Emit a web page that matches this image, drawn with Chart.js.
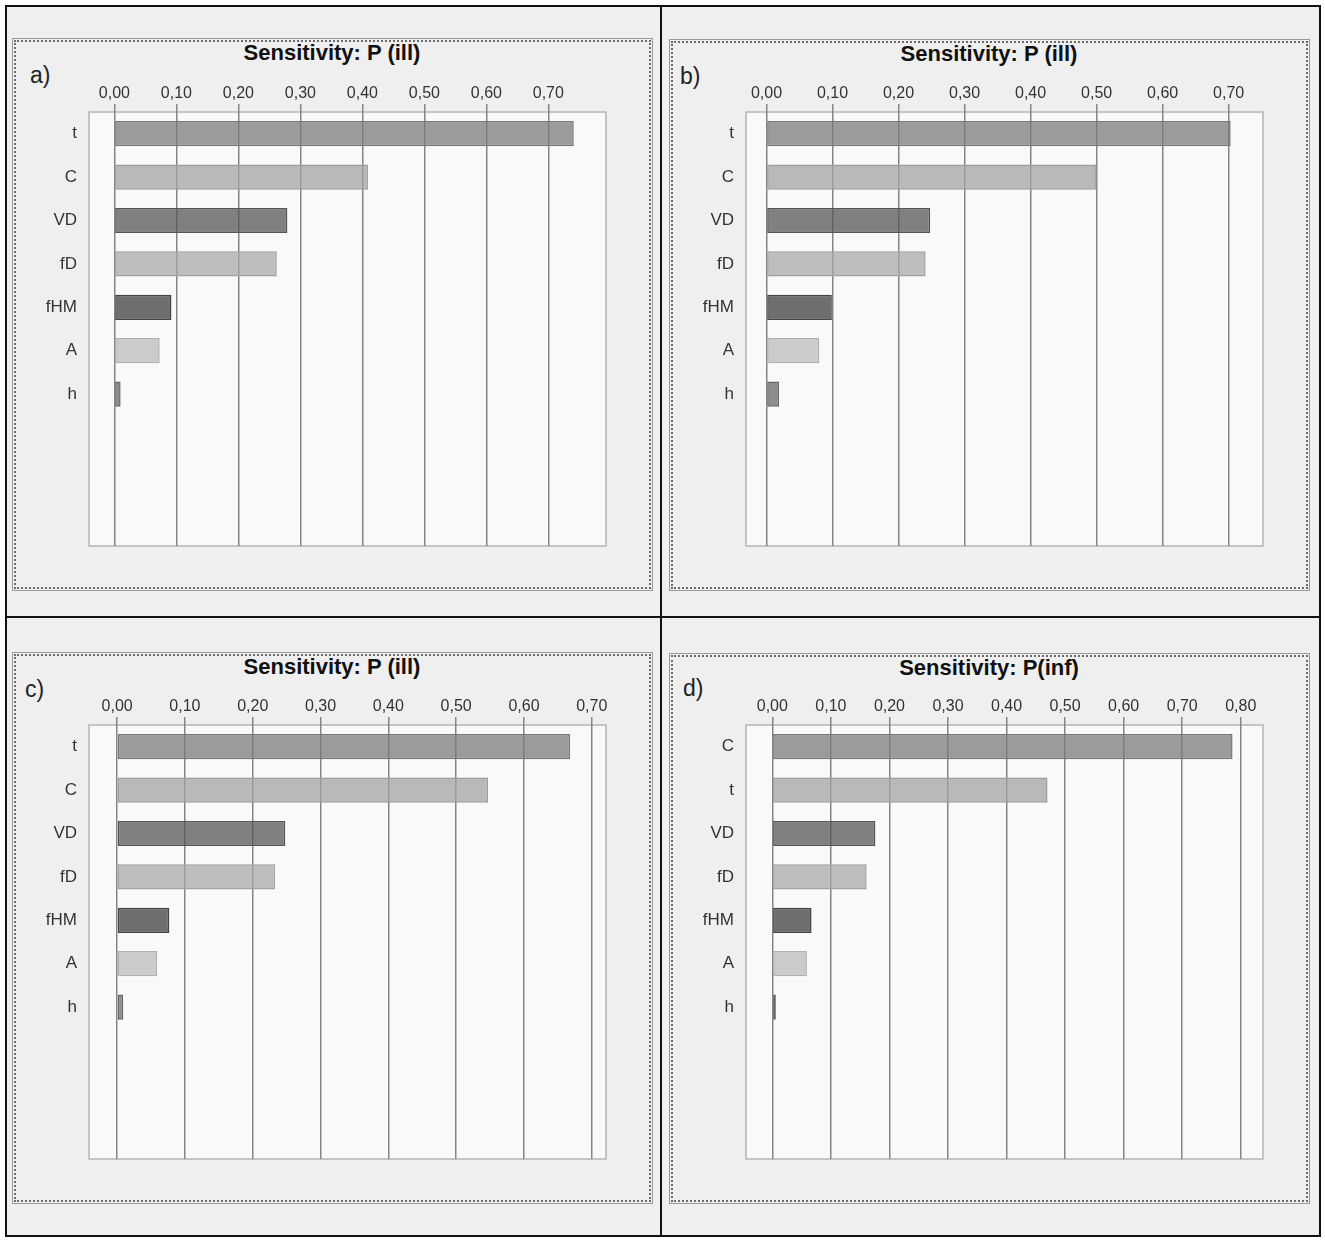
<!DOCTYPE html>
<html>
<head>
<meta charset="utf-8">
<script src="https://cdn.jsdelivr.net/npm/chart.js@4.4.0/dist/chart.umd.min.js"></script>
<style>
  html, body { margin: 0; padding: 0; background: #fff; }
  body { width: 1325px; height: 1240px; position: relative; overflow: hidden;
         font-family: 'Liberation Sans', Arial, sans-serif; }
  .panel { position: absolute; box-sizing: border-box; border: 2px solid #111; background: #efefef; }
  .frame { position: absolute; box-sizing: border-box; border: 1px solid #9a9a9a; padding: 1px; }
  .frame div { width: 100%; height: 100%; box-sizing: border-box; border: 2px dotted #6a6a6a; }
  .title { position: absolute; font-weight: bold; font-size: 22px; color: #111; text-align: center;
           line-height: 24px; }
  .tag { position: absolute; font-size: 23px; color: #222; line-height: 26px; }
  .wrap { position: absolute; }
</style>
</head>
<body>
<script>
// categories (top to bottom)
const catsIll = ['t', 'C', 'VD', 'fD', 'fHM', 'A', 'h'];
const catsInf = ['C', 't', 'VD', 'fD', 'fHM', 'A', 'h'];

// sensitivity values
const valsA = [0.741, 0.409, 0.279, 0.262, 0.092, 0.073, 0.010];
const valsB = [0.703, 0.500, 0.248, 0.241, 0.099, 0.080, 0.019];
const valsC = [0.668, 0.547, 0.248, 0.233, 0.077, 0.059, 0.009];
const valsD = [0.786, 0.470, 0.176, 0.161, 0.067, 0.059, 0.006];

// tick labels
const ticksIll = [0, 0.1, 0.2, 0.3, 0.4, 0.5, 0.6, 0.7];
const ticksInf = [0, 0.1, 0.2, 0.3, 0.4, 0.5, 0.6, 0.7, 0.8];

// axis extents [min, max]
const rangeA = [-0.041, 0.793];
const rangeB = [-0.031, 0.752];
const rangeC = [-0.0415, 0.721];
const rangeD = [-0.045, 0.838];

const titles = ['Sensitivity: P (ill)', 'Sensitivity: P (ill)', 'Sensitivity: P (ill)', 'Sensitivity: P(inf)'];
const tags = ['a)', 'b)', 'c)', 'd)'];

// bar fills by row position (semi-transparent so grid shows through)
const fills = ['rgba(123,123,123,0.75)', 'rgba(163,163,163,0.75)', 'rgba(87,87,87,0.75)',
               'rgba(169,169,169,0.75)', 'rgba(63,63,63,0.75)', 'rgba(187,187,187,0.75)', 'rgba(104,104,104,0.75)'];
const strokes = ['#777', '#9c9c9c', '#555', '#a2a2a2', '#444', '#b0b0b0', '#666'];

const emptySlots = 3;

// panel geometry (page px)
const panels = [
  { box: [5, 5, 657, 613],    frame: [12, 38, 641, 553],  title: [12, 41, 640], tag: [30, 62],  plot: [89, 112] },
  { box: [660, 5, 661, 613],  frame: [669, 39, 641, 552], title: [669, 42, 640], tag: [680, 63], plot: [746, 112] },
  { box: [5, 616, 657, 621],  frame: [12, 652, 641, 552], title: [12, 655, 640], tag: [25, 676], plot: [89, 725] },
  { box: [660, 616, 661, 621], frame: [669, 653, 641, 551], title: [669, 656, 640], tag: [683, 675], plot: [746, 725] }
];
const plotW = 517, plotH = 434, padL = 85, padT = 45, padR = 30, padB = 10;

const sets = [
  { cats: catsIll, vals: valsA, ticks: ticksIll, range: rangeA },
  { cats: catsIll, vals: valsB, ticks: ticksIll, range: rangeB },
  { cats: catsIll, vals: valsC, ticks: ticksIll, range: rangeC },
  { cats: catsInf, vals: valsD, ticks: ticksInf, range: rangeD }
];

Chart.defaults.font.family = "'Liberation Sans', Arial, sans-serif";

const plotBox = {
  id: 'plotBox',
  beforeDraw(chart) {
    const a = chart.chartArea, ctx = chart.ctx;
    ctx.save();
    ctx.fillStyle = '#f9f9f9';
    ctx.fillRect(a.left, a.top, a.right - a.left, a.bottom - a.top);
    ctx.strokeStyle = '#b5b5b5';
    ctx.lineWidth = 1.5;
    ctx.strokeRect(a.left, a.top, a.right - a.left, a.bottom - a.top);
    ctx.restore();
  }
};

function el(cls, x, y, w, h) {
  const d = document.createElement('div');
  d.className = cls;
  d.style.left = x + 'px'; d.style.top = y + 'px';
  if (w != null) d.style.width = w + 'px';
  if (h != null) d.style.height = h + 'px';
  document.body.appendChild(d);
  return d;
}

panels.forEach((p, i) => {
  el('panel', p.box[0], p.box[1], p.box[2], p.box[3]);
  el('frame', p.frame[0], p.frame[1], p.frame[2], p.frame[3]).appendChild(document.createElement('div'));
  const t = el('title', p.title[0], p.title[1], p.title[2]);
  t.textContent = titles[i];
  const g = el('tag', p.tag[0], p.tag[1]);
  g.textContent = tags[i];

  const w = plotW + padL + padR, h = plotH + padT + padB;
  const wrap = el('wrap', p.plot[0] - padL, p.plot[1] - padT, w, h);
  const cv = document.createElement('canvas');
  cv.width = w; cv.height = h;
  wrap.appendChild(cv);

  const s = sets[i];
  const labels = s.cats.concat(Array(emptySlots).fill(''));

  new Chart(cv.getContext('2d'), {
    type: 'bar',
    data: {
      labels: labels,
      datasets: [{
        data: s.vals,
        backgroundColor: fills,
        borderColor: strokes,
        borderWidth: 1.5,
        borderSkipped: false,
        barPercentage: 0.58,
        categoryPercentage: 1
      }]
    },
    options: {
      indexAxis: 'y',
      responsive: false,
      animation: false,
      devicePixelRatio: 1,
      layout: { padding: { left: 0, top: 0, right: padR, bottom: padB } },
      plugins: { legend: { display: false }, tooltip: { enabled: false } },
      scales: {
        x: {
          position: 'top',
          min: s.range[0],
          max: s.range[1],
          afterBuildTicks: sc => { sc.ticks = s.ticks.map(v => ({ value: v })); },
          afterFit: sc => { sc.height = padT; sc.paddingLeft = 0; sc.paddingRight = 0; },
          ticks: {
            callback: v => v.toFixed(2).replace('.', ','),
            color: '#333',
            font: { size: 16 },
            padding: 1,
            maxRotation: 0,
            autoSkip: false
          },
          grid: { color: '#858585', lineWidth: 1.5, drawTicks: true, tickLength: 8, tickColor: '#858585' },
          border: { display: false }
        },
        y: {
          afterFit: sc => { sc.width = padL; sc.paddingTop = 0; sc.paddingBottom = 0; },
          ticks: { color: '#333', font: { size: 17 }, padding: 12 },
          grid: { display: false, drawTicks: false },
          border: { display: false }
        }
      }
    },
    plugins: [plotBox]
  });
});
</script>
</body>
</html>
